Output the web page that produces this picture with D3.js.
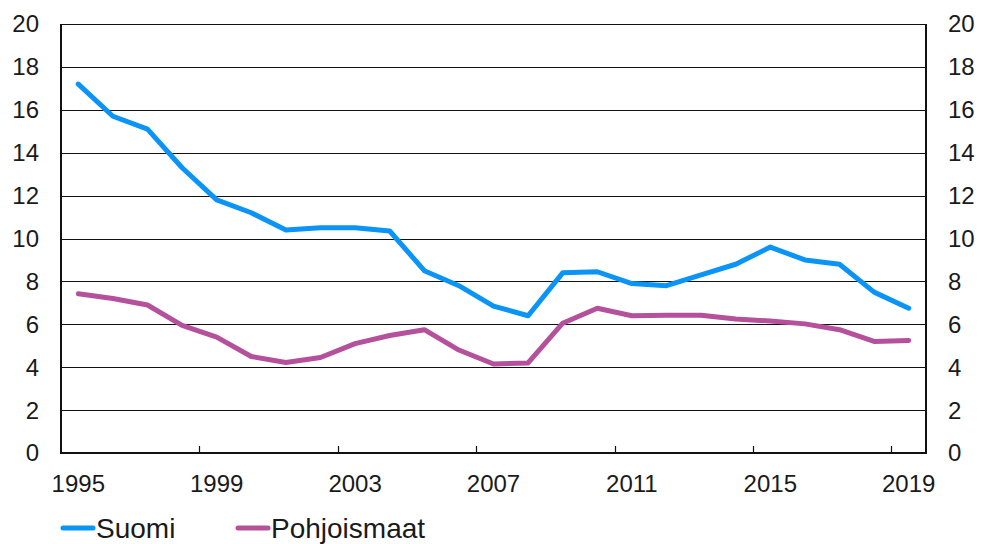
<!DOCTYPE html>
<html>
<head>
<meta charset="utf-8">
<script src="https://cdn.jsdelivr.net/npm/d3@7"></script>
<style>
  body { margin: 0; background: #fff; }
  svg text { font-family: "Liberation Sans", Arial, sans-serif; fill: #1a1a1a; }
</style>
</head>
<body>
<div id="draw_here"></div>
<script>
    // Data
    years = d3.range(1995, 2020)
    suomi = [17.2, 15.7, 15.1, 13.3, 11.8, 11.2, 10.4, 10.5, 10.5, 10.35, 8.5, 7.8, 6.85, 6.4,
             8.4, 8.45, 7.9, 7.8, 8.3, 8.8, 9.6, 9.0, 8.8, 7.5, 6.75]
    pohjoismaat = [7.42, 7.2, 6.9, 5.95, 5.4, 4.5, 4.22, 4.45, 5.1, 5.48, 5.75, 4.8, 4.15, 4.2,
                   6.05, 6.75, 6.4, 6.42, 6.42, 6.25, 6.15, 6.02, 5.75, 5.2, 5.25]
    yTicks = [0, 2, 4, 6, 8, 10, 12, 14, 16, 18, 20]
    xLabels = [1995, 1999, 2003, 2007, 2011, 2015, 2019]
    xTickYears = [1999, 2003, 2007, 2011, 2015, 2019]
    series = [
        {name: "Suomi", values: suomi, color: "#0a94f7"},
        {name: "Pohjoismaat", values: pohjoismaat, color: "#b5509c"}
    ]

    canvas = ({width: 981, height: 544})
    margin = ({top: 24, right: 55, bottom: 91, left: 61})

    x = d3.scaleBand()
        .domain(years)
        .range([margin.left, canvas.width - margin.right])

    y = d3.scaleLinear()
        .domain([0, 20])
        .range([canvas.height - margin.bottom, margin.top])

    var svg = d3.select("div#draw_here").append("svg")
        .attr("width", canvas.width)
        .attr("height", canvas.height)

    // Gridlines
    svg.append("g")
        .selectAll("line")
        .data(yTicks.filter(d => d > 0))
        .join("line")
        .attr("x1", margin.left)
        .attr("x2", canvas.width - margin.right)
        .attr("y1", d => Math.round(y(d)) + 0.5)
        .attr("y2", d => Math.round(y(d)) + 0.5)
        .attr("stroke", "#111")
        .attr("stroke-width", 1)

    // Frame: left, right, bottom
    frame = svg.append("g").attr("stroke", "#111").attr("stroke-width", 2)
    frame.append("line")
        .attr("x1", margin.left).attr("x2", margin.left)
        .attr("y1", y(20)).attr("y2", y(0) + 1)
    frame.append("line")
        .attr("x1", canvas.width - margin.right).attr("x2", canvas.width - margin.right)
        .attr("y1", y(20)).attr("y2", y(0) + 1)
    frame.append("line")
        .attr("x1", margin.left - 1).attr("x2", canvas.width - margin.right + 1)
        .attr("y1", y(0)).attr("y2", y(0))

    // X tick marks (on category boundaries, pointing up)
    svg.append("g")
        .selectAll("line")
        .data(xTickYears)
        .join("line")
        .attr("x1", d => Math.round(x(d)) + 0.5)
        .attr("x2", d => Math.round(x(d)) + 0.5)
        .attr("y1", y(0))
        .attr("y2", y(0) - 7)
        .attr("stroke", "#111")
        .attr("stroke-width", 1.2)

    // X labels
    svg.append("g")
        .selectAll("text")
        .data(xLabels)
        .join("text")
        .attr("x", d => x(d) + x.bandwidth() / 2)
        .attr("y", y(0) + 31)
        .attr("dy", "0.35em")
        .attr("text-anchor", "middle")
        .attr("font-size", 24)
        .text(d => d)

    // Y labels left + right
    svg.append("g")
        .selectAll("text")
        .data(yTicks)
        .join("text")
        .attr("x", margin.left - 22)
        .attr("y", d => y(d))
        .attr("dy", "0.35em")
        .attr("text-anchor", "end")
        .attr("font-size", 24)
        .text(d => d)

    svg.append("g")
        .selectAll("text")
        .data(yTicks)
        .join("text")
        .attr("x", canvas.width - margin.right + 22)
        .attr("y", d => y(d))
        .attr("dy", "0.35em")
        .attr("text-anchor", "start")
        .attr("font-size", 24)
        .text(d => d)

    // Lines
    line = d3.line()
        .x((d, i) => x(years[i]) + x.bandwidth() / 2)
        .y(d => y(d))

    svg.append("g")
        .selectAll("path")
        .data(series)
        .join("path")
        .attr("fill", "none")
        .attr("stroke", d => d.color)
        .attr("stroke-width", 5)
        .attr("stroke-linejoin", "round")
        .attr("stroke-linecap", "round")
        .attr("d", d => line(d.values))

    // Legend
    legendX = [63, 238]
    legend = svg.append("g")
        .selectAll("g")
        .data(series)
        .join("g")
        .attr("transform", (d, i) => `translate(${legendX[i]},528)`)
    legend.append("line")
        .attr("x1", 0).attr("x2", 30)
        .attr("stroke", d => d.color)
        .attr("stroke-width", 5)
        .attr("stroke-linecap", "round")
    legend.append("text")
        .attr("x", 33)
        .attr("dy", "0.35em")
        .attr("font-size", 28)
        .text(d => d.name)
</script>
</body>
</html>
